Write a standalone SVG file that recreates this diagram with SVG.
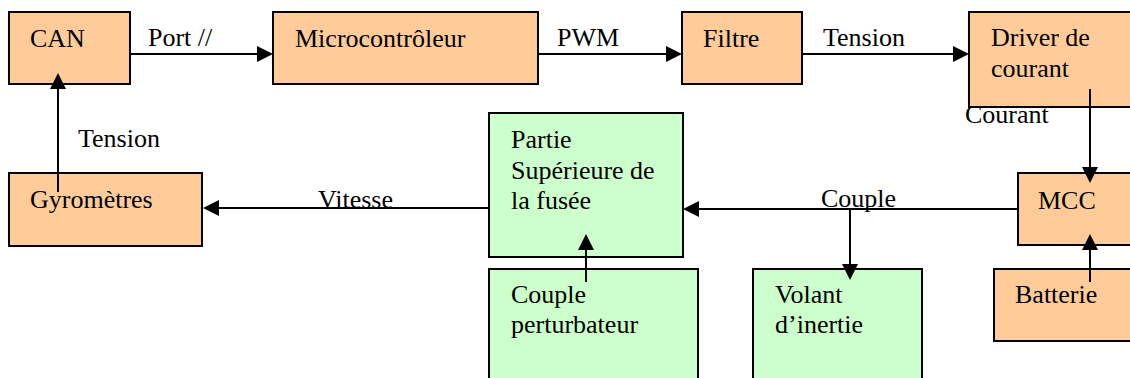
<svg xmlns="http://www.w3.org/2000/svg" width="1130" height="378" viewBox="0 0 1130 378" font-family="Liberation Serif, Times New Roman, serif" font-size="26">
<style>
.o{fill:#FFCC99;stroke:#000;stroke-width:2}
.g{fill:#CCFFCC;stroke:#000;stroke-width:2}
.c{stroke:#000;stroke-width:2;fill:none}
.h{fill:#000;stroke:none}
</style>
<rect width="1130" height="378" fill="#fff"/>
<g id="can"><rect class="o" x="9" y="12" width="121" height="72"/><text font-family="Liberation Serif" x="30" y="47">CAN</text></g>
<g id="micro"><rect class="o" x="273" y="12" width="265" height="72"/><text font-family="Liberation Serif" x="295" y="47">Microcontrôleur</text></g>
<g id="filtre"><rect class="o" x="682" y="12" width="120" height="72"/><text font-family="Liberation Serif" x="703" y="47">Filtre</text></g>
<g id="driver"><rect class="o" x="969" y="12" width="175" height="95"/><text font-family="Liberation Serif" x="991" y="46">Driver de</text><text font-family="Liberation Serif" x="991" y="77">courant</text></g>
<g id="mcc"><rect class="o" x="1018" y="173" width="126" height="72"/><text font-family="Liberation Serif" x="1038" y="209">MCC</text></g>
<g id="batterie"><rect class="o" x="994" y="269" width="150" height="72"/><text font-family="Liberation Serif" x="1015" y="303">Batterie</text></g>
<g id="gyro"><rect class="o" x="9" y="173" width="193" height="73"/><text font-family="Liberation Serif" x="30" y="208">Gyromètres</text></g>
<g id="partie"><rect class="g" x="489" y="113" width="194" height="144"/><text font-family="Liberation Serif" x="511" y="148">Partie</text><text font-family="Liberation Serif" x="511" y="179">Supérieure de</text><text font-family="Liberation Serif" x="511" y="209">la fusée</text></g>
<g id="perturb"><rect class="g" x="489" y="269" width="209" height="120"/><text font-family="Liberation Serif" x="511" y="303">Couple</text><text font-family="Liberation Serif" x="511" y="333">perturbateur</text></g>
<g id="volant"><rect class="g" x="753" y="269" width="169" height="120"/><text font-family="Liberation Serif" x="775" y="303">Volant</text><text font-family="Liberation Serif" x="775" y="333">d’inertie</text></g>
<g id="connectors">
<path class="c" d="M130,54 H258"/><polygon class="h" points="273,54 257,46 257,62"/>
<path class="c" d="M538,54 H667"/><polygon class="h" points="682,54 666,46 666,62"/>
<path class="c" d="M802,54 H954"/><polygon class="h" points="969,54 953,46 953,62"/>
<path class="c" d="M1090,89 V168"/><polygon class="h" points="1090,183 1082,167 1098,167"/>
<path class="c" d="M1090,282 V249"/><polygon class="h" points="1090,234 1082,250 1098,250"/>
<path class="c" d="M1018,209 H698"/><polygon class="h" points="683,209 699,201 699,217"/>
<path class="c" d="M850,209 V265"/><polygon class="h" points="850,280 842,264 858,264"/>
<path class="c" d="M489,208 H218"/><polygon class="h" points="203,208 219,200 219,216"/>
<path class="c" d="M586,282 V249"/><polygon class="h" points="586,234 578,250 594,250"/>
<path class="c" d="M58,192 V88"/><polygon class="h" points="58,73 50,89 66,89"/>
</g>
<g id="labels">
<text font-family="Liberation Serif" x="148" y="46">Port //</text>
<text font-family="Liberation Serif" x="557" y="46">PWM</text>
<text font-family="Liberation Serif" x="823" y="46">Tension</text>
<text font-family="Liberation Serif" x="965" y="123">Courant</text>
<text font-family="Liberation Serif" x="821" y="207">Couple</text>
<text font-family="Liberation Serif" x="318" y="208">Vitesse</text>
<text font-family="Liberation Serif" x="78" y="147">Tension</text>
</g>
</svg>
